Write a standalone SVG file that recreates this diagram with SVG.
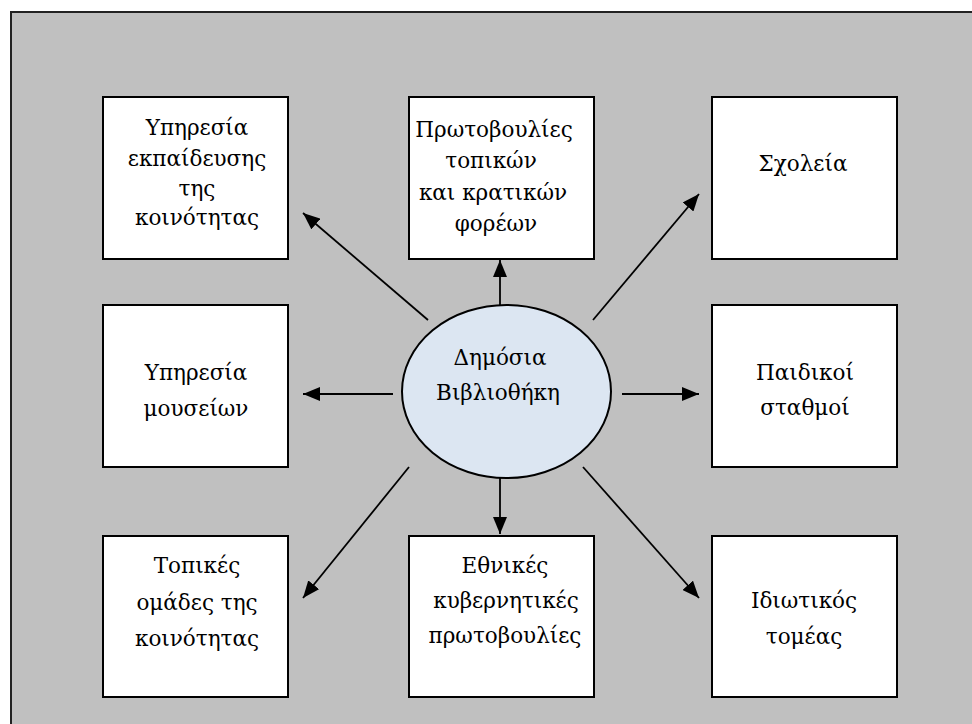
<svg xmlns="http://www.w3.org/2000/svg" width="972" height="724" viewBox="0 0 972 724">
<defs>
<style>
.box{fill:#fff;stroke:#000;stroke-width:2}
.t{font-family:"DejaVu Serif","Liberation Serif",serif;font-size:21.5px;fill:#000;text-anchor:middle}
.c{stroke:#000;stroke-width:1.8;fill:none;marker-end:url(#ah)}
</style>
<marker id="ah" markerUnits="userSpaceOnUse" markerWidth="18" markerHeight="14" refX="17" refY="7" orient="auto">
<path d="M0,0 L17,7 L0,14 z" fill="#000"/>
</marker>
</defs>
<rect x="11" y="12" width="975" height="730" fill="#c0c0c0" stroke="#222" stroke-width="2"/>
<g id="connectors">
<line class="c" x1="428" y1="320" x2="303" y2="213"/>
<line class="c" x1="500" y1="305" x2="500" y2="260"/>
<line class="c" x1="593" y1="320" x2="699" y2="194"/>
<line class="c" x1="393" y1="394" x2="303" y2="394"/>
<line class="c" x1="622" y1="394" x2="699" y2="394"/>
<line class="c" x1="409" y1="467" x2="303" y2="598"/>
<line class="c" x1="500" y1="478" x2="500" y2="534"/>
<line class="c" x1="583" y1="467" x2="699" y2="598"/>
</g>
<g id="n-center">
<ellipse cx="506.5" cy="391.5" rx="104.5" ry="86.5" fill="#dce6f2" stroke="#000" stroke-width="2"/>
<text class="t" x="500" y="365">Δημόσια</text>
<text class="t" x="498" y="400">Βιβλιοθήκη</text>
</g>
<g id="n-education">
<rect class="box" x="103" y="97" width="185" height="162"/>
<text class="t" x="197" y="135">Υπηρεσία</text>
<text class="t" x="197" y="166">εκπαίδευσης</text>
<text class="t" x="197" y="196">της</text>
<text class="t" x="197" y="225">κοινότητας</text>
</g>
<g id="n-initiatives">
<rect class="box" x="409" y="97" width="185" height="162"/>
<text class="t" x="494" y="137">Πρωτοβουλίες</text>
<text class="t" x="491" y="168">τοπικών</text>
<text class="t" x="493" y="200">και κρατικών</text>
<text class="t" x="496" y="231">φορέων</text>
</g>
<g id="n-schools">
<rect class="box" x="712" y="97" width="185" height="162"/>
<text class="t" x="803" y="171">Σχολεία</text>
</g>
<g id="n-museums">
<rect class="box" x="103" y="305" width="185" height="162"/>
<text class="t" x="196" y="380">Υπηρεσία</text>
<text class="t" x="196" y="416">μουσείων</text>
</g>
<g id="n-nurseries">
<rect class="box" x="712" y="305" width="185" height="162"/>
<text class="t" x="805" y="380">Παιδικοί</text>
<text class="t" x="805" y="415">σταθμοί</text>
</g>
<g id="n-local-groups">
<rect class="box" x="103" y="536" width="185" height="161"/>
<text class="t" x="197" y="573">Τοπικές</text>
<text class="t" x="197" y="610">ομάδες της</text>
<text class="t" x="197" y="646">κοινότητας</text>
</g>
<g id="n-national">
<rect class="box" x="409" y="536" width="185" height="161"/>
<text class="t" x="505" y="573">Εθνικές</text>
<text class="t" x="506" y="608">κυβερνητικές</text>
<text class="t" x="505" y="643">πρωτοβουλίες</text>
</g>
<g id="n-private">
<rect class="box" x="712" y="536" width="185" height="161"/>
<text class="t" x="804" y="608">Ιδιωτικός</text>
<text class="t" x="804" y="644">τομέας</text>
</g>
</svg>
